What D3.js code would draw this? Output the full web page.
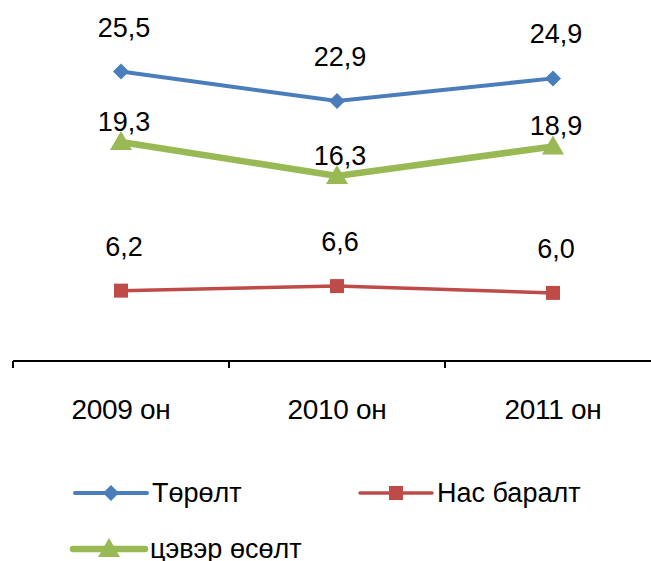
<!DOCTYPE html>
<html>
<head>
<meta charset="utf-8">
<script src="https://cdn.jsdelivr.net/npm/d3@7"></script>
<style>
  body { margin: 0; background: #fff; }
  text { font-family: "Liberation Sans", Arial, sans-serif; fill: #000; }
</style>
</head>
<body>
<div id="chart"></div>
<script>
// data
var categories = ["2009 он", "2010 он", "2011 он"];
var seriesNames = ["Төрөлт", "Нас баралт", "цэвэр өсөлт"];
var births = [25.5, 22.9, 24.9];
var deaths = [6.2, 6.6, 6.0];
var netGrowth = [19.3, 16.3, 18.9];

var width = 651, height = 561;

var svg = d3.select("#chart").append("svg")
    .attr("width", width)
    .attr("height", height);

var x = d3.scaleBand()
    .domain(categories)
    .range([13, 661]);

var y = d3.scaleLinear()
    .domain([0, 30])
    .range([361, 20.5]);

var series = [
  { name: seriesNames[0], values: births, color: "#4A7EBB", width: 4, marker: "diamond", labelDy: -35 },
  { name: seriesNames[1], values: deaths, color: "#BE4B48", width: 3.5, marker: "square", labelDy: -35 },
  { name: seriesNames[2], values: netGrowth, color: "#98B954", width: 6.5, marker: "triangle", labelDy: -11 }
];

function markerPath(type) {
  if (type === "diamond") return "M0,-8L8,0L0,8L-8,0Z";
  if (type === "square") return "M-7,-7H7V7H-7Z";
  return "M0,-11L11,8H-11Z";
}

function cx(i) { return x(categories[i]) + x.bandwidth() / 2; }

// x axis
var xAxis = d3.axisBottom(x).tickSize(0);
var gx = svg.append("g")
    .attr("class", "x axis")
    .attr("transform", "translate(0," + y(0) + ")")
    .call(xAxis);
gx.select(".domain").remove();
gx.append("line")
    .attr("x1", 13).attr("x2", 661)
    .attr("stroke", "#000").attr("stroke-width", 2);
var edges = categories.map(function(c) { return x(c); }).concat([x.range()[1]]);
gx.selectAll(".edge").data(edges).enter().append("line")
    .attr("class", "edge")
    .attr("x1", function(d) { return d; })
    .attr("x2", function(d) { return d; })
    .attr("y1", 0).attr("y2", 7)
    .attr("stroke", "#000").attr("stroke-width", 2);
gx.selectAll(".tick text")
    .attr("y", 58)
    .attr("dy", "0")
    .style("font-size", "28px")
    .style("letter-spacing", "-0.3px")
    .style("font-family", "'Liberation Sans', Arial, sans-serif")
    .attr("fill", "#000");

var line = d3.line()
    .x(function(d, i) { return cx(i); })
    .y(function(d) { return y(d); });

series.forEach(function(s) {
  var g = svg.append("g").attr("class", "series");
  g.append("path")
      .datum(s.values)
      .attr("d", line)
      .attr("fill", "none")
      .attr("stroke", s.color)
      .attr("stroke-width", s.width);
  g.selectAll(".pt").data(s.values).enter().append("path")
      .attr("class", "pt")
      .attr("d", markerPath(s.marker))
      .attr("transform", function(d, i) { return "translate(" + cx(i) + "," + y(d) + ")"; })
      .attr("fill", s.color);
  g.selectAll(".lbl").data(s.values).enter().append("text")
      .attr("class", "lbl")
      .attr("x", function(d, i) { return cx(i) + 3; })
      .attr("y", function(d) { return y(d) + s.labelDy; })
      .attr("text-anchor", "middle")
      .style("font-size", "27px")
      .text(function(d) { return d.toFixed(1).replace(".", ","); });
});

// legend
var legendPos = [[75, 493], [360, 493], [73, 549]];
var legend = svg.append("g").attr("class", "legend")
  .selectAll("g")
  .data(series)
  .enter().append("g")
    .attr("transform", function(d, i) { return "translate(" + legendPos[i][0] + "," + legendPos[i][1] + ")"; });

legend.append("line")
    .attr("x1", 0).attr("x2", 72)
    .attr("stroke", function(d) { return d.color; })
    .attr("stroke-width", function(d) { return d.width; })
    .attr("stroke-linecap", "round");
legend.append("path")
    .attr("d", function(d) { return markerPath(d.marker); })
    .attr("transform", "translate(36,0)")
    .attr("fill", function(d) { return d.color; });
legend.append("text")
    .attr("x", 77)
    .attr("y", 9)
    .style("font-size", "27px")
    .text(function(d) { return d.name; });
</script>
</body>
</html>
